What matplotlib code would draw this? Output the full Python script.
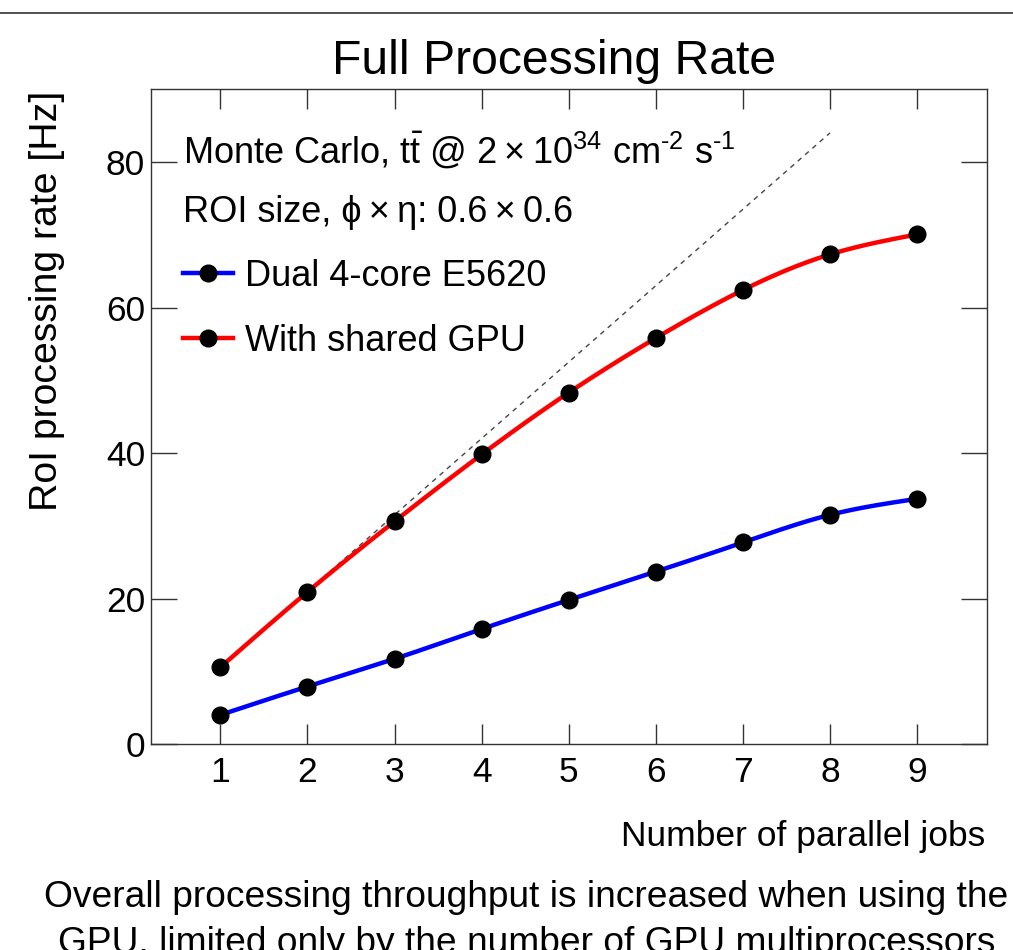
import numpy as np
import matplotlib
matplotlib.use('Agg')
import matplotlib.pyplot as plt
from matplotlib.lines import Line2D

# ---------------- data ----------------
jobs = [1, 2, 3, 4, 5, 6, 7, 8, 9]
cpu_rate = [4.0, 7.9, 11.7, 15.8, 19.8, 23.7, 27.7, 31.5, 33.7]
gpu_rate = [10.55, 20.9, 30.6, 39.8, 48.3, 55.8, 62.4, 67.3, 70.05]
ideal_jobs = [1, 8]
ideal_rate = [10.5, 84.0]
x_ticks = [1, 2, 3, 4, 5, 6, 7, 8, 9]
y_ticks = [0, 20, 40, 60, 80]
labels = ["Dual 4-core E5620", "With shared GPU"]
title = "Full Processing Rate"
ylabel = "RoI processing rate [Hz]"
xlabel = "Number of parallel jobs"
caption1 = "Overall processing throughput is increased when using the"
caption2 = "GPU, limited only by the number of GPU multiprocessors"

plt.rcParams['font.family'] = ['Liberation Sans', 'DejaVu Sans']
plt.rcParams['mathtext.fontset'] = 'custom'
plt.rcParams['mathtext.rm'] = 'Liberation Sans'
plt.rcParams['mathtext.it'] = 'Liberation Sans'
plt.rcParams['mathtext.bf'] = 'Liberation Sans:bold'


def natural_spline(x, y, n=40):
    x = np.asarray(x, float)
    y = np.asarray(y, float)
    k = len(x)
    h = np.diff(x)
    A = np.zeros((k, k))
    b = np.zeros(k)
    A[0, 0] = 1
    A[-1, -1] = 1
    for i in range(1, k - 1):
        A[i, i - 1] = h[i - 1]
        A[i, i] = 2 * (h[i - 1] + h[i])
        A[i, i + 1] = h[i]
        b[i] = 6 * ((y[i + 1] - y[i]) / h[i] - (y[i] - y[i - 1]) / h[i - 1])
    M = np.linalg.solve(A, b)
    xs, ys = [], []
    for i in range(k - 1):
        t = np.linspace(x[i], x[i + 1], n, endpoint=(i == k - 2))
        a = x[i + 1] - t
        c = t - x[i]
        s = (M[i] * a ** 3 + M[i + 1] * c ** 3) / (6 * h[i]) \
            + (y[i] / h[i] - M[i] * h[i] / 6) * a \
            + (y[i + 1] / h[i] - M[i + 1] * h[i] / 6) * c
        xs.append(t)
        ys.append(s)
    return np.concatenate(xs), np.concatenate(ys)


W, H = 1013, 950
fig = plt.figure(figsize=(W / 100, H / 100), dpi=100)
fig.patch.set_facecolor('white')

left, right, top, bottom = 150.7, 986.7, 89.3, 744.0
ax = fig.add_axes([left / W, 1 - bottom / H, (right - left) / W, (bottom - top) / H])

# ideal scaling line
ax.plot(ideal_jobs, ideal_rate, color='#444444', lw=1.0, linestyle=(0, (3.5, 3.5)), zorder=2)

colors = ['#0000ff', '#ff0000']
for vals, col in zip([cpu_rate, gpu_rate], colors):
    sx, sy = natural_spline(jobs, vals)
    ax.plot(sx, sy, color=col, lw=3.2, zorder=3, solid_capstyle='butt')
    ax.plot(jobs, vals, 'o', color='black', ms=12, zorder=4)

ax.set_xlim(0.2, 9.8)
ax.set_ylim(0, 90)
ax.set_xticks(x_ticks)
ax.set_yticks(y_ticks)
ax.minorticks_off()
ax.tick_params(axis='both', direction='in', top=True, right=True, labelsize=25.5,
               width=1.0, color='#333333', labelcolor='black')
ax.tick_params(axis='x', length=14.5, pad=9)
ax.tick_params(axis='y', length=19, pad=4)
for sp in ax.spines.values():
    sp.set_color('#333333')
    sp.set_linewidth(1.0)

# legend for series
handles = [Line2D([], [], color=c, lw=3.2, marker='o', mfc='black', mec='black', ms=12)
           for c in colors]
leg = ax.legend(handles, labels, loc='center left',
                bbox_to_anchor=(183 / W, 1 - 309 / H), bbox_transform=fig.transFigure,
                frameon=False, fontsize=26, handlelength=1.38, handletextpad=0.33,
                labelspacing=0.83, borderpad=0, borderaxespad=0, numpoints=1)

# header text lines
fig.text(183 / W, 1 - 164 / H,
         "Monte Carlo, t$\\bar{\\mathrm{t}}$ @ 2\u2009\u00d7\u200910$^{34}$ cm$^{\\text{-}2}$ s$^{\\text{-}1}$",
         fontsize=26, va='baseline', ha='left')
fig.text(183 / W, 1 - 221.7 / H, "ROI size, \u03d5\u2009\u00d7\u2009\u03b7: 0.6\u2009\u00d7\u20090.6",
         fontsize=26, va='baseline', ha='left')

# titles and axis labels
fig.text(554 / W, 1 - 74 / H, title, fontsize=34.7, ha='center', va='baseline')
fig.text(47 / W, 1 - 91 / H, ylabel, fontsize=28.3, rotation=90, ha='center', va='top')
fig.text(985 / W, 1 - 846 / H, xlabel, fontsize=25.5, ha='right', va='baseline')

# caption
fig.text(526 / W, 1 - 907 / H, caption1, fontsize=26.7, ha='center', va='baseline')
fig.text(527 / W, 1 - 953 / H, caption2, fontsize=26.7, ha='center', va='baseline')

# top rule
fig.add_artist(Line2D([0, 1], [1 - 13 / H, 1 - 13 / H], transform=fig.transFigure,
                      color='#333333', lw=1.2))

fig.savefig('out.png', dpi=100)
